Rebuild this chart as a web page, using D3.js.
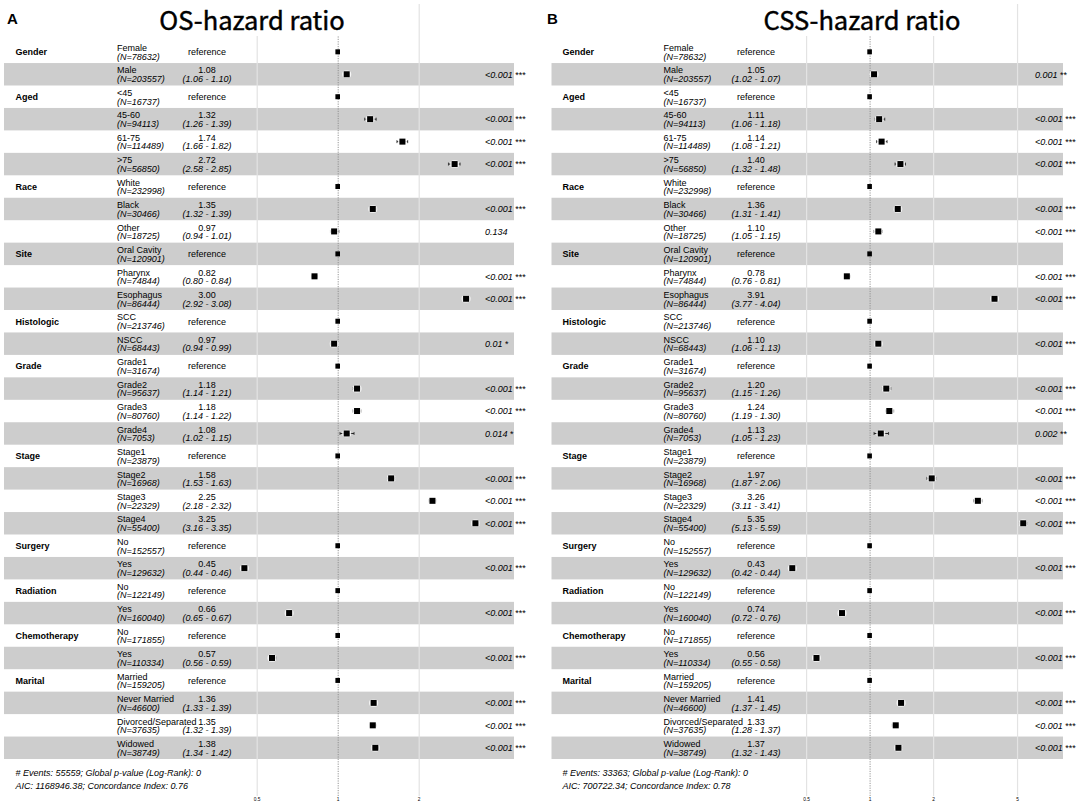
<!DOCTYPE html>
<html>
<head>
<meta charset="utf-8">
<script src="https://cdn.jsdelivr.net/npm/d3@7"></script>
<style>
  body { margin: 0; background: #fff; }
  svg text { font-family: "Liberation Sans", Arial, sans-serif; fill: #000; }
  .titulo { font-family: "Noto Sans CJK SC", "Noto Sans", sans-serif; }
</style>
</head>
<body>
<svg id="grafico"></svg>
<script>
// categories (one entry per row)
const rowGroup = ["Gender", "", "Aged", "", "", "", "Race", "", "", "Site", "", "",
  "Histologic", "", "Grade", "", "", "", "Stage", "", "", "", "Surgery", "",
  "Radiation", "", "Chemotherapy", "", "Marital", "", "", ""];
const levels = ["Female", "Male", "<45", "45-60", "61-75", ">75", "White", "Black", "Other",
  "Oral Cavity", "Pharynx", "Esophagus", "SCC", "NSCC", "Grade1", "Grade2", "Grade3", "Grade4",
  "Stage1", "Stage2", "Stage3", "Stage4", "No", "Yes", "No", "Yes", "No", "Yes",
  "Married", "Never Married", "Divorced/Separated", "Widowed"];
const counts = [78632, 203557, 16737, 94113, 114489, 56850, 232998, 30466, 18725,
  120901, 74844, 86444, 213746, 68443, 31674, 95637, 80760, 7053,
  23879, 16968, 22329, 55400, 152557, 129632, 122149, 160040, 171855, 110334,
  159205, 46600, 37635, 38749];

// OS model (null = reference level)
const osHR   = [null, 1.08, null, 1.32, 1.74, 2.72, null, 1.35, 0.97, null, 0.82, 3.00, null, 0.97,
  null, 1.18, 1.18, 1.08, null, 1.58, 2.25, 3.25, null, 0.45, null, 0.66, null, 0.57, null, 1.36, 1.35, 1.38];
const osLow  = [null, 1.06, null, 1.26, 1.66, 2.58, null, 1.32, 0.94, null, 0.80, 2.92, null, 0.94,
  null, 1.14, 1.14, 1.02, null, 1.53, 2.18, 3.16, null, 0.44, null, 0.65, null, 0.56, null, 1.33, 1.32, 1.34];
const osHigh = [null, 1.10, null, 1.39, 1.82, 2.85, null, 1.39, 1.01, null, 0.84, 3.08, null, 0.99,
  null, 1.21, 1.22, 1.15, null, 1.63, 2.32, 3.35, null, 0.46, null, 0.67, null, 0.59, null, 1.39, 1.39, 1.42];
const osP = [null, "<0.001", null, "<0.001", "<0.001", "<0.001", null, "<0.001", "0.134", null, "<0.001", "<0.001",
  null, "0.01", null, "<0.001", "<0.001", "0.014", null, "<0.001", "<0.001", "<0.001", null, "<0.001",
  null, "<0.001", null, "<0.001", null, "<0.001", "<0.001", "<0.001"];
const osFooter = ["# Events: 55559; Global p-value (Log-Rank): 0", "AIC: 1168946.38; Concordance Index: 0.76"];
const osTicks = [0.5, 1, 2];

// CSS model
const cssHR   = [null, 1.05, null, 1.11, 1.14, 1.40, null, 1.36, 1.10, null, 0.78, 3.91, null, 1.10,
  null, 1.20, 1.24, 1.13, null, 1.97, 3.26, 5.35, null, 0.43, null, 0.74, null, 0.56, null, 1.41, 1.33, 1.37];
const cssLow  = [null, 1.02, null, 1.06, 1.08, 1.32, null, 1.31, 1.05, null, 0.76, 3.77, null, 1.06,
  null, 1.15, 1.19, 1.05, null, 1.87, 3.11, 5.13, null, 0.42, null, 0.72, null, 0.55, null, 1.37, 1.28, 1.32];
const cssHigh = [null, 1.07, null, 1.18, 1.21, 1.48, null, 1.41, 1.15, null, 0.81, 4.04, null, 1.13,
  null, 1.26, 1.30, 1.23, null, 2.06, 3.41, 5.59, null, 0.44, null, 0.76, null, 0.58, null, 1.45, 1.37, 1.43];
const cssP = [null, "0.001", null, "<0.001", "<0.001", "<0.001", null, "<0.001", "<0.001", null, "<0.001", "<0.001",
  null, "<0.001", null, "<0.001", "<0.001", "0.002", null, "<0.001", "<0.001", "<0.001", null, "<0.001",
  null, "<0.001", null, "<0.001", null, "<0.001", "<0.001", "<0.001"];
const cssFooter = ["# Events: 33363; Global p-value (Log-Rank): 0", "AIC: 700722.34; Concordance Index: 0.78"];
const cssTicks = [0.5, 1, 2, 5];

const svg = d3.select('#grafico').attr('width', 1084).attr('height', 808);

// significance stars from the p-value text
function stars(p) {
  if (p.startsWith('<')) return '***';
  const v = +p;
  return v < 0.001 ? '***' : v < 0.01 ? '**' : v < 0.05 ? '*' : '';
}

function ForestPanel(p) {
  const g = svg.append('g');
  const rows = d3.range(levels.length);

  // vertical rows and log x scale
  const y = d3.scaleBand().domain(rows).range([40.6, 759]);
  const x = d3.scaleLog().domain([0.5, 2]).range([p.x05, p.x2]);
  const cy = i => y(i) + y.bandwidth() / 2;

  // alternating shaded rows
  g.selectAll('.faixa').data(rows.filter(i => i % 2 === 1)).enter()
    .append('rect').classed('faixa', true)
    .attr('x', p.bandX0).attr('width', p.bandX1 - p.bandX0)
    .attr('y', i => y(i)).attr('height', y.bandwidth())
    .attr('fill', '#cdcdcd');

  // grid lines + tick labels
  const eixo = d3.axisBottom(x).tickValues(p.ticks).tickFormat(d3.format('')).tickSizeInner(-792).tickSizeOuter(0).tickPadding(2);
  const ge = g.append('g').attr('transform', 'translate(0,796)').call(eixo);
  ge.select('.domain').remove();
  ge.selectAll('line').attr('stroke', '#e3e3e3').attr('stroke-width', 1.2);
  ge.selectAll('text').attr('font-size', 4.8).attr('fill', '#444');

  // white box behind the title hides the top of the grid
  g.append('rect').attr('x', p.boxX0).attr('y', 0).attr('width', p.boxX1 - p.boxX0).attr('height', 36).attr('fill', '#fff');

  ge.selectAll('.tick').filter(d => d === 1).select('line')
    .attr('y2', -760).attr('stroke', '#8a8a8a').attr('stroke-width', 0.9).attr('stroke-dasharray', '1.2,1.2');

  // titles
  g.append('text').attr('x', p.letterX).attr('y', 24).attr('font-size', 15).attr('font-weight', 'bold').text(p.letter);
  g.append('text').classed('titulo', true).attr('x', p.titleX).attr('y', 30).attr('text-anchor', 'middle')
    .attr('font-size', 25.5).attr('stroke', '#000').attr('stroke-width', 0.45).text(p.title);

  // markers
  const ref = rows.filter(i => p.hr[i] === null);
  const est = rows.filter(i => p.hr[i] !== null);
  g.selectAll('.ref').data(ref).enter().append('rect').classed('ref', true)
    .attr('x', x(1) - 2.3).attr('y', i => cy(i) - 2.5).attr('width', 4.6).attr('height', 5).attr('fill', '#000');

  const m = g.selectAll('.marca').data(est).enter().append('g').classed('marca', true);
  m.append('line').attr('x1', i => x(p.low[i])).attr('x2', i => x(p.high[i]))
    .attr('y1', cy).attr('y2', cy).attr('stroke', '#222').attr('stroke-width', 1);
  m.append('line').attr('x1', i => x(p.low[i])).attr('x2', i => x(p.low[i]))
    .attr('y1', i => cy(i) - 1.5).attr('y2', i => cy(i) + 1.5).attr('stroke', '#222').attr('stroke-width', 0.8);
  m.append('line').attr('x1', i => x(p.high[i])).attr('x2', i => x(p.high[i]))
    .attr('y1', i => cy(i) - 1.5).attr('y2', i => cy(i) + 1.5).attr('stroke', '#222').attr('stroke-width', 0.8);
  m.append('rect').attr('x', i => x(p.hr[i]) - 4.5).attr('y', i => cy(i) - 3.8).attr('width', 9).attr('height', 7.6)
    .attr('rx', 3.5).attr('fill', '#fff').attr('opacity', 0.85);
  m.append('rect').attr('x', i => x(p.hr[i]) - 3).attr('y', i => cy(i) - 3).attr('width', 6).attr('height', 6).attr('fill', '#000');

  // left text columns
  g.selectAll('.grupo').data(rows.filter(i => rowGroup[i] !== '')).enter().append('text').classed('grupo', true)
    .attr('x', p.varX).attr('y', i => cy(i) + 3.3).attr('font-size', 9).attr('font-weight', 'bold').text(i => rowGroup[i]);

  g.selectAll('.nivel').data(rows).enter().append('text').classed('nivel', true)
    .attr('x', p.levelX).attr('y', i => cy(i) - 0.8).attr('font-size', 9).text(i => levels[i]);
  g.selectAll('.n').data(rows).enter().append('text').classed('n', true)
    .attr('x', p.levelX).attr('y', i => cy(i) + 7.8).attr('font-size', 9).attr('font-style', 'italic')
    .text(i => '(N=' + counts[i] + ')');

  g.selectAll('.referencia').data(ref).enter().append('text').classed('referencia', true)
    .attr('x', p.estX).attr('y', i => cy(i) + 3.3).attr('font-size', 9).attr('text-anchor', 'middle').text('reference');
  g.selectAll('.hr').data(est).enter().append('text').classed('hr', true)
    .attr('x', p.estX).attr('y', i => cy(i) - 0.8).attr('font-size', 9).attr('text-anchor', 'middle')
    .text(i => p.hr[i].toFixed(2));
  g.selectAll('.ic').data(est).enter().append('text').classed('ic', true)
    .attr('x', p.estX).attr('y', i => cy(i) + 7.8).attr('font-size', 9).attr('text-anchor', 'middle').attr('font-style', 'italic')
    .text(i => '(' + p.low[i].toFixed(2) + ' - ' + p.high[i].toFixed(2) + ')');

  // p-values
  const pv = g.selectAll('.pvalor').data(est).enter().append('text').classed('pvalor', true)
    .attr('x', p.pX).attr('y', i => cy(i) + 3.3).attr('font-size', 9);
  pv.append('tspan').attr('font-style', 'italic').text(i => p.pval[i]);
  pv.append('tspan').text(i => stars(p.pval[i]) ? ' ' + stars(p.pval[i]) : '');

  // footer
  g.selectAll('.rodape').data(p.footer).enter().append('text').classed('rodape', true)
    .attr('x', p.varX).attr('y', (d, k) => 776 + k * 13.3).attr('font-size', 9).attr('font-style', 'italic').text(d => d);
}

new ForestPanel({
  letter: 'A', title: 'OS-hazard ratio', letterX: 7, titleX: 252,
  hr: osHR, low: osLow, high: osHigh, pval: osP, footer: osFooter, ticks: osTicks,
  x05: 256.7, x2: 418.7, bandX0: 4, bandX1: 514, boxX0: 0, boxX1: 400,
  varX: 15.5, levelX: 117, estX: 207, pX: 485
});

new ForestPanel({
  letter: 'B', title: 'CSS-hazard ratio', letterX: 547, titleX: 862,
  hr: cssHR, low: cssLow, high: cssHigh, pval: cssP, footer: cssFooter, ticks: cssTicks,
  x05: 806.1, x2: 933.1, bandX0: 551.5, bandX1: 1063, boxX0: 540, boxX1: 1000,
  varX: 562.5, levelX: 663.5, estX: 756, pX: 1035
});
</script>
</body>
</html>
